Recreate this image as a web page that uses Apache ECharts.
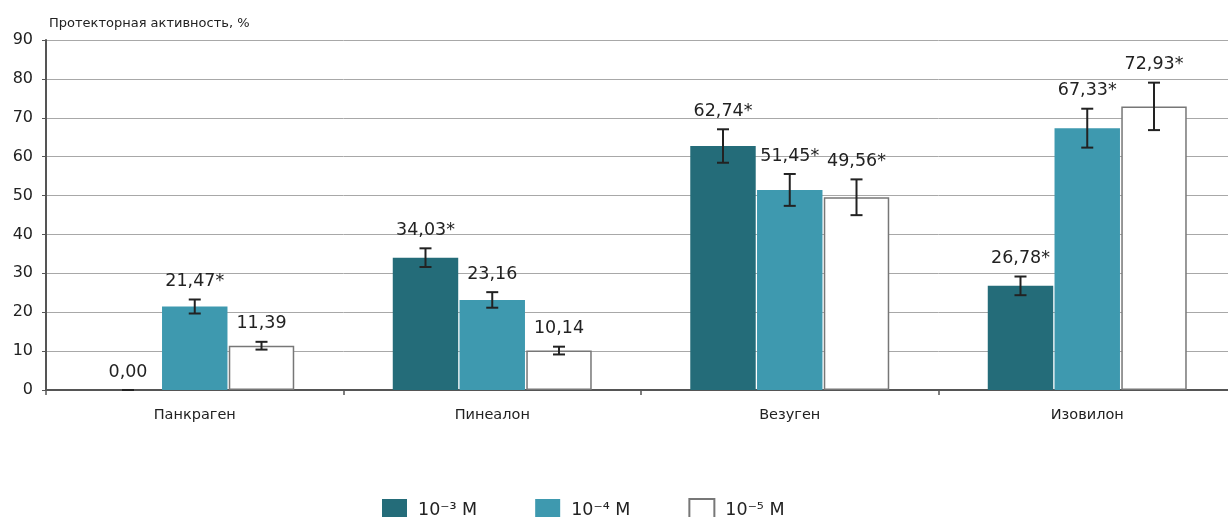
<!DOCTYPE html>
<html>
<head>
<meta charset="utf-8">
<script src="https://cdn.jsdelivr.net/npm/echarts@6/dist/echarts.min.js"></script>
<style>
html,body{margin:0;padding:0;background:#fff;overflow:hidden;}
#chart{width:1240px;height:517px;}
</style>
</head>
<body>
<div id="chart"></div>
<script>
// ---- data ----
var categories = ['Панкраген', 'Пинеалон', 'Везуген', 'Изовилон'];
var seriesNames = ['10\u207B\u00B3 М', '10\u207B\u2074 М', '10\u207B\u2075 М'];
var values_e3 = [0.00, 34.03, 62.74, 26.78];
var values_e4 = [21.47, 23.16, 51.45, 67.33];
var values_e5 = [11.39, 10.14, 49.56, 72.93];
var errors_e3 = [0.0, 2.4, 4.3, 2.4];
var errors_e4 = [1.8, 2.0, 4.1, 5.0];
var errors_e5 = [1.0, 1.0, 4.6, 6.1];
var signif_e3 = [false, true, true, true];
var signif_e4 = [true, false, true, true];
var signif_e5 = [false, false, true, true];
var yTicks = [0, 10, 20, 30, 40, 50, 60, 70, 80, 90];

var FONT = '"DejaVu Sans", sans-serif';
var BAR_FRAC = 0.22;
var GAP = 0.02;
var colors = ['#246c79', '#3e99af', '#ffffff'];

var allValues = [values_e3, values_e4, values_e5];
var allErrors = [errors_e3, errors_e4, errors_e5];
var allSignif = [signif_e3, signif_e4, signif_e5];

function fmt(v, s) { return v.toFixed(2).replace('.', ',') + (s ? '*' : ''); }

function makeRender(si) {
  return function (params, api) {
    var i = params.dataIndex;
    var idx = api.value(0), val = api.value(1), err = api.value(2);
    var c = api.coord([idx, val]);
    var band = api.size([1, 0])[0];
    var bw = band * BAR_FRAC;
    var x = c[0] + (si - 1) * bw * (1 + GAP);
    var top = api.coord([idx, val + err])[1];
    var bot = api.coord([idx, Math.max(0, val - err)])[1];
    var h = 6;
    var st = { stroke: '#222', lineWidth: 2 };
    return {
      type: 'group',
      children: [
        { type: 'line', shape: { x1: x, y1: top, x2: x, y2: bot }, style: st },
        { type: 'line', shape: { x1: x - h, y1: top, x2: x + h, y2: top }, style: st },
        { type: 'line', shape: { x1: x - h, y1: bot, x2: x + h, y2: bot }, style: st },
        { type: 'text', style: { text: fmt(allValues[si][i], allSignif[si][i]), x: x, y: top - 9,
            align: 'center', verticalAlign: 'bottom', font: '17.5px ' + FONT, fill: '#222' } }
      ]
    };
  };
}

var series = [];
for (var s = 0; s < 3; s++) {
  series.push({
    name: seriesNames[s], type: 'bar', barWidth: (BAR_FRAC * 100) + '%', barGap: (GAP * 100) + '%',
    data: allValues[s],
    itemStyle: s === 2 ? { color: colors[s], borderColor: '#777', borderWidth: 1.5 } : { color: colors[s] },
    emphasis: { disabled: true }, z: 2
  });
}
for (var s2 = 0; s2 < 3; s2++) {
  var d = [];
  for (var k = 0; k < categories.length; k++) d.push([k, allValues[s2][k], allErrors[s2][k]]);
  series.push({ type: 'custom', renderItem: makeRender(s2), data: d, z: 5, silent: true,
    encode: { x: 0, y: 1 } });
}

var chart = echarts.init(document.getElementById('chart'), null, { renderer: 'canvas' });
chart.setOption({
  animation: false,
  backgroundColor: '#fff',
  title: { text: 'Протекторная активность, %', left: 44, top: 12,
    textStyle: { fontFamily: FONT, fontSize: 13, fontWeight: 'normal', color: '#222' } },
  grid: { left: 46, top: 40, width: 1190, height: 350, containLabel: false },
  legend: {
    data: seriesNames, left: 377, top: 493, itemWidth: 25, itemHeight: 23, itemGap: 58,
    icon: 'rect',
    textStyle: { fontFamily: FONT, fontSize: 17.5, color: '#222', padding: [0, 0, 0, 6] }
  },
  xAxis: {
    type: 'category', data: categories,
    axisLine: { lineStyle: { color: '#555', width: 2 } },
    axisTick: { show: true, length: 5, lineStyle: { color: '#555', width: 1.5 } },
    axisLabel: { fontFamily: FONT, fontSize: 14.5, color: '#222', margin: 18 }
  },
  yAxis: {
    type: 'value', min: 0, max: 90, interval: 10,
    axisLine: { show: true, lineStyle: { color: '#555', width: 2 } },
    axisTick: { show: true, length: 4, lineStyle: { color: '#555' } },
    axisLabel: { fontFamily: FONT, fontSize: 16, color: '#222', margin: 13,
      formatter: function (v) { return yTicks.indexOf(v) >= 0 ? String(v) : ''; } },
    splitLine: { lineStyle: { color: '#a8a8a8', width: 1 } }
  },
  series: series
});
</script>
</body>
</html>
